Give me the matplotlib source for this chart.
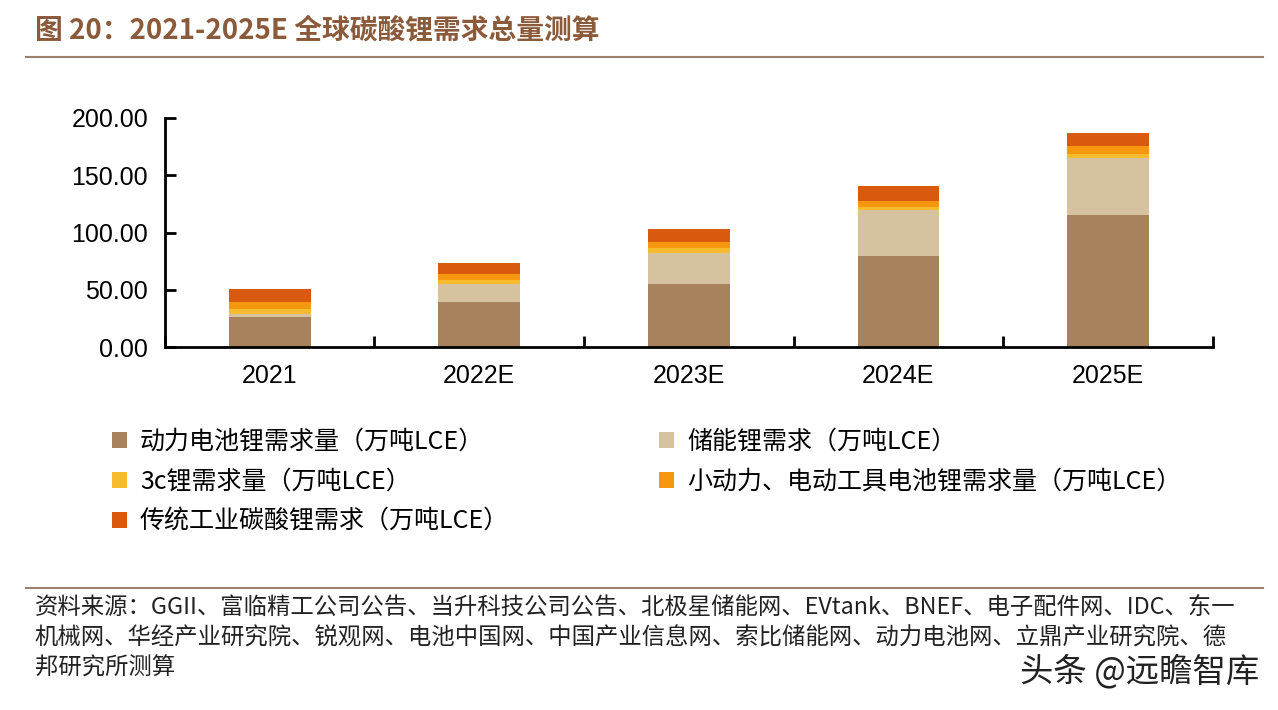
import numpy as np
import matplotlib
matplotlib.use("Agg")
import matplotlib.pyplot as plt
from matplotlib.patches import Patch
from matplotlib.ticker import FormatStrFormatter

plt.rcParams['font.family'] = ['Liberation Sans', 'Noto Sans CJK SC', 'DejaVu Sans']
CJK = ['Noto Sans CJK SC', 'Liberation Sans', 'DejaVu Sans']

# data (万吨LCE)
years = ["2021", "2022E", "2023E", "2024E", "2025E"]
power = [26.6, 39.3, 55.0, 79.2, 115.0]        # 动力电池
storage = [2.4, 16.0, 27.4, 40.2, 50.0]        # 储能
c3 = [4.4, 3.7, 4.4, 2.9, 3.8]                 # 3c
small = [5.8, 5.0, 5.0, 5.2, 6.6]              # 小动力、电动工具
industry = [11.7, 9.6, 11.0, 12.8, 11.7]       # 传统工业

names = ["动力电池锂需求量（万吨LCE）", "储能锂需求（万吨LCE）",
         "3c锂需求量（万吨LCE）", "小动力、电动工具电池锂需求量（万吨LCE）",
         "传统工业碳酸锂需求（万吨LCE）"]
cols = ["#A8825D", "#D6C29F", "#F6BB2E", "#F5980F", "#D9590F"]

fig = plt.figure(figsize=(12.78, 7.10), dpi=100)
ax = fig.add_axes([0.129, 0.511, 0.820, 0.323])

x = np.arange(len(years))
bottom = np.zeros(len(years))
for vals, c in zip([power, storage, c3, small, industry], cols):
    ax.bar(x, vals, 0.39, bottom=bottom, color=c, edgecolor='none')
    bottom += np.array(vals)

ax.set_xlim(-0.5, 4.5)
ax.set_ylim(0, 200)
ax.set_yticks([0, 50, 100, 150, 200])
ax.yaxis.set_major_formatter(FormatStrFormatter('%.2f'))
ax.set_xticks(x)
ax.set_xticklabels(years)
ax.set_xticks(np.arange(-0.5, 5, 1), minor=True)
ax.tick_params(axis='x', which='major', length=0, pad=12, labelsize=18)
ax.tick_params(axis='x', which='minor', direction='in', length=8, width=2)
ax.tick_params(axis='y', direction='in', length=8, width=2, pad=12, labelsize=18)
for s in ['top', 'right']:
    ax.spines[s].set_visible(False)
for s in ['left', 'bottom']:
    ax.spines[s].set_linewidth(2)

# title and rules
fig.text(0.027, 0.957, "图 20：2021-2025E 全球碳酸锂需求总量测算", family=CJK,
         fontsize=20, fontweight='bold', color='#8A5A3A', va='center')
fig.add_artist(plt.Line2D([0.02, 0.988], [0.920, 0.920], color='#9C8070', lw=1.5))
fig.add_artist(plt.Line2D([0.02, 0.988], [0.172, 0.172], color='#9C8070', lw=1.5))

# legend, two columns placed by hand
h = [Patch(facecolor=c, edgecolor='none') for c in cols]
lkw = dict(loc='upper left', frameon=False, prop={'family': CJK, 'size': 18},
           handlelength=0.6, handleheight=0.6, handletextpad=0.5,
           labelspacing=0.56, borderpad=0, borderaxespad=0)
fig.legend([h[0], h[2], h[4]], [names[0], names[2], names[4]],
           bbox_to_anchor=(0.088, 0.396), **lkw)
fig.legend([h[1], h[3]], [names[1], names[3]],
           bbox_to_anchor=(0.516, 0.396), **lkw)

src = ["资料来源：GGII、富临精工公司公告、当升科技公司公告、北极星储能网、EVtank、BNEF、电子配件网、IDC、东一",
       "机械网、华经产业研究院、锐观网、电池中国网、中国产业信息网、索比储能网、动力电池网、立鼎产业研究院、德",
       "邦研究所测算"]
for i, line in enumerate(src):
    fig.text(0.027, 0.144 - i * 0.0425, line, family=CJK, fontsize=16.8, color='#222222', va='center')

fig.text(0.985, 0.053, "头条 @远瞻智库", family=CJK, fontsize=24, color='#222222',
         ha='right', va='center')

fig.savefig("out.png", dpi=100)
